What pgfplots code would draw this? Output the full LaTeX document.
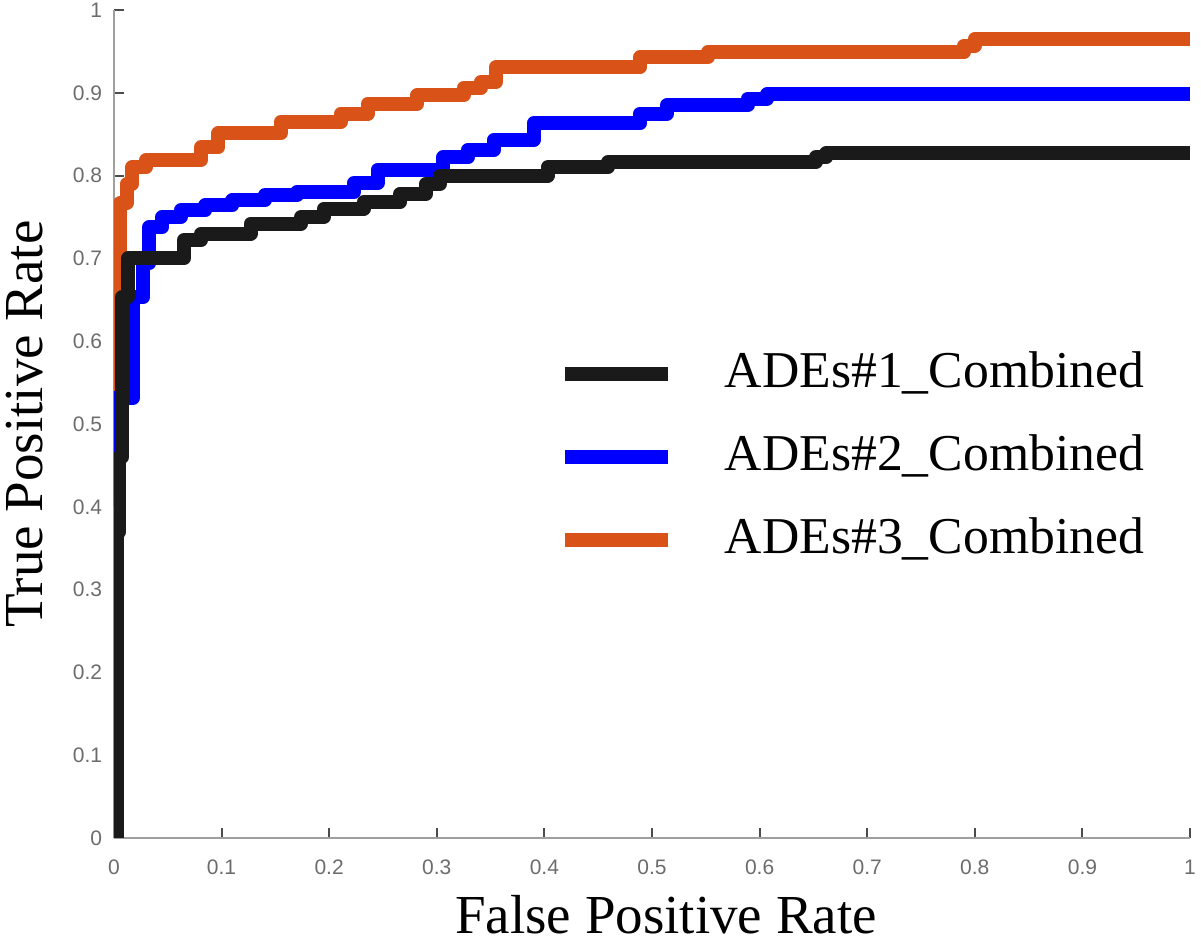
\documentclass[border=0pt]{standalone}
\usepackage{fontspec}
\setmainfont{Liberation Serif}
\newfontfamily\ticksf{Liberation Sans}
\usepackage{pgfplots}
\pgfplotsset{compat=1.18}
\definecolor{morange}{HTML}{D95319}
\definecolor{mblue}{HTML}{0000FF}
\definecolor{mblack}{HTML}{1A1A1A}
\begin{document}
\begin{tikzpicture}
\begin{axis}[
  scale only axis, width=322.8pt, height=248.4pt,
  xmin=0, xmax=1, ymin=0, ymax=1,
  axis x line*=bottom, axis y line*=left,
  axis line style={draw=gray!75, line width=0.6pt},
  xtick={0,0.1,0.2,0.3,0.4,0.5,0.6,0.7,0.8,0.9,1},
  ytick={0,0.1,0.2,0.3,0.4,0.5,0.6,0.7,0.8,0.9,1},
  xticklabels={0,0.1,0.2,0.3,0.4,0.5,0.6,0.7,0.8,0.9,1},
  yticklabels={0,0.1,0.2,0.3,0.4,0.5,0.6,0.7,0.8,0.9,1},
  tick align=inside, major tick length=3pt,
  tick style={draw=gray!60!black, line width=0.6pt},
  tick label style={font=\ticksf\fontsize{6.3}{7}\selectfont, text=gray!85!black},
  /pgf/number format/assume math mode=true,
  xticklabel style={yshift=-3pt},
  xlabel={False Positive Rate}, ylabel={True Positive Rate},
  label style={font=\fontsize{16.5}{18}\selectfont},
  xlabel style={at={(axis description cs:0.513,-0.115)}, anchor=base},
  ylabel style={at={(axis description cs:-0.066,0.5)}, anchor=base},
  legend style={at={(rel axis cs:0.412,0.46)}, anchor=west, draw=none, fill=none,
    inner sep=0pt, font=\fontsize{15.5}{17}\selectfont, row sep=11pt, column sep=0pt,
    nodes={inner sep=0pt, text height=11pt, text depth=3pt}},
  legend cell align=left,
  reverse legend,
  legend image code/.code={\draw[#1, line width=4.2pt] (0pt,0pt) -- (31pt,0pt); \path[draw=none] (0pt,0pt) -- (48pt,0pt);},
  every axis plot/.append style={line width=4.2pt, line join=round},
]
\addplot[morange, const plot] coordinates {
(0.0,0.416) (0.002,0.67) (0.006,0.767) (0.012,0.79) (0.017,0.81) (0.03,0.819)
(0.081,0.834) (0.097,0.851) (0.155,0.865) (0.211,0.875) (0.236,0.887) (0.282,0.897)
(0.325,0.906) (0.341,0.913) (0.355,0.931) (0.489,0.943) (0.552,0.949) (0.79,0.957)
(0.80,0.965) (1.0,0.965)};
\addlegendentry{ADEs\#3\_Combined}
\addplot[mblue, const plot] coordinates {
(0.0,0.40) (0.001,0.532) (0.018,0.653) (0.027,0.694) (0.033,0.738) (0.045,0.750)
(0.062,0.758) (0.085,0.764) (0.11,0.770) (0.14,0.776) (0.17,0.780) (0.223,0.791)
(0.245,0.807) (0.306,0.822) (0.329,0.831) (0.353,0.843) (0.39,0.863) (0.489,0.875)
(0.514,0.885) (0.589,0.893) (0.607,0.898) (1.0,0.898)};
\addlegendentry{ADEs\#2\_Combined}
\addplot[mblack, const plot] coordinates {
(0.003,0) (0.003,0.37) (0.005,0.46) (0.0075,0.653) (0.013,0.70) (0.065,0.722)
(0.081,0.73) (0.127,0.742) (0.174,0.75) (0.195,0.76) (0.232,0.768) (0.266,0.778)
(0.29,0.79) (0.303,0.80) (0.403,0.81) (0.459,0.816) (0.652,0.822) (0.662,0.827)
(1.0,0.827)};
\addlegendentry{ADEs\#1\_Combined}
\coordinate (bbsw) at (rel axis cs:-0.1059,-0.128);
\coordinate (bbne) at (rel axis cs:1.0102,1.0121);
\end{axis}
\pgfresetboundingbox
\path (bbsw) rectangle (bbne);
\end{tikzpicture}
\end{document}
